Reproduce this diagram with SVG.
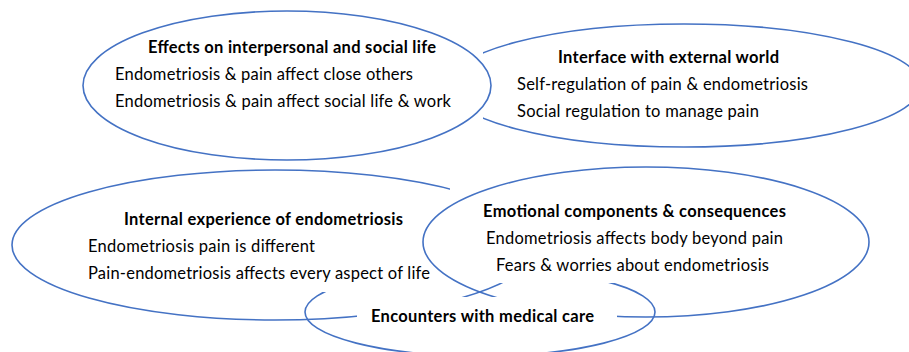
<svg xmlns="http://www.w3.org/2000/svg" width="909" height="352" viewBox="0 0 909 352">
  <style>
    .ring { fill: none; stroke: #4472c4; stroke-width: 1.6; }
    .t { font-family: Lato, "Open Sans", "DejaVu Sans", sans-serif; font-size: 16.5px; fill: #000; }
    .h { font-weight: bold; }
  </style>
  <defs>
    <!-- Each mask knocks out the text areas that sit in front of an outline -->
    <mask id="m-interface" maskUnits="userSpaceOnUse" x="0" y="0" width="909" height="352">
      <rect x="0" y="0" width="909" height="352" fill="#fff"/>
      <rect x="100" y="35" width="383" height="90" fill="#000"/>
    </mask>
    <mask id="m-internal" maskUnits="userSpaceOnUse" x="0" y="0" width="909" height="352">
      <rect x="0" y="0" width="909" height="352" fill="#fff"/>
      <rect x="450" y="178" width="390" height="105" fill="#000"/>
      <rect x="357" y="297" width="260" height="33" fill="#000"/>
    </mask>
    <mask id="m-encounters" maskUnits="userSpaceOnUse" x="0" y="0" width="909" height="352">
      <rect x="0" y="0" width="909" height="352" fill="#fff"/>
      <rect x="310" y="200" width="145" height="92" fill="#000"/>
      <rect x="450" y="178" width="390" height="105" fill="#000"/>
    </mask>
    <mask id="m-emotional" maskUnits="userSpaceOnUse" x="0" y="0" width="909" height="352">
      <rect x="0" y="0" width="909" height="352" fill="#fff"/>
      <rect x="357" y="297" width="260" height="33" fill="#000"/>
    </mask>
  </defs>

  <g id="node-effects">
    <ellipse class="ring" cx="287" cy="85.5" rx="204" ry="74.5"/>
    <text class="t h" x="148" y="53" textLength="288">Effects on interpersonal and social life</text>
    <text class="t" x="115" y="80" textLength="298">Endometriosis &amp; pain affect close others</text>
    <text class="t" x="115" y="107" textLength="336">Endometriosis &amp; pain affect social life &amp; work</text>
  </g>

  <g id="node-interface">
    <ellipse class="ring" cx="684" cy="85.5" rx="237" ry="61.5" mask="url(#m-interface)"/>
    <text class="t h" x="558" y="63" textLength="221">Interface with external world</text>
    <text class="t" x="517" y="90" textLength="291">Self-regulation of pain &amp; endometriosis</text>
    <text class="t" x="517" y="117" textLength="242">Social regulation to manage pain</text>
  </g>

  <g id="node-internal">
    <ellipse class="ring" cx="275" cy="245" rx="263" ry="75" mask="url(#m-internal)"/>
    <text class="t h" x="124" y="225" textLength="279">Internal experience of endometriosis</text>
    <text class="t" x="88" y="252" textLength="227">Endometriosis pain is different</text>
    <text class="t" x="88" y="279" textLength="342">Pain-endometriosis affects every aspect of life</text>
  </g>

  <g id="node-emotional">
    <ellipse class="ring" cx="646" cy="242" rx="223" ry="75" mask="url(#m-emotional)"/>
    <text class="t h" x="483" y="217" textLength="303">Emotional components &amp; consequences</text>
    <text class="t" x="486" y="244" textLength="297">Endometriosis affects body beyond pain</text>
    <text class="t" x="496" y="271" textLength="273">Fears &amp; worries about endometriosis</text>
  </g>

  <g id="node-encounters">
    <ellipse class="ring" cx="480" cy="312" rx="175" ry="44" mask="url(#m-encounters)"/>
    <text class="t h" x="371" y="322" textLength="223">Encounters with medical care</text>
  </g>

  <g id="connectors"/>
</svg>
